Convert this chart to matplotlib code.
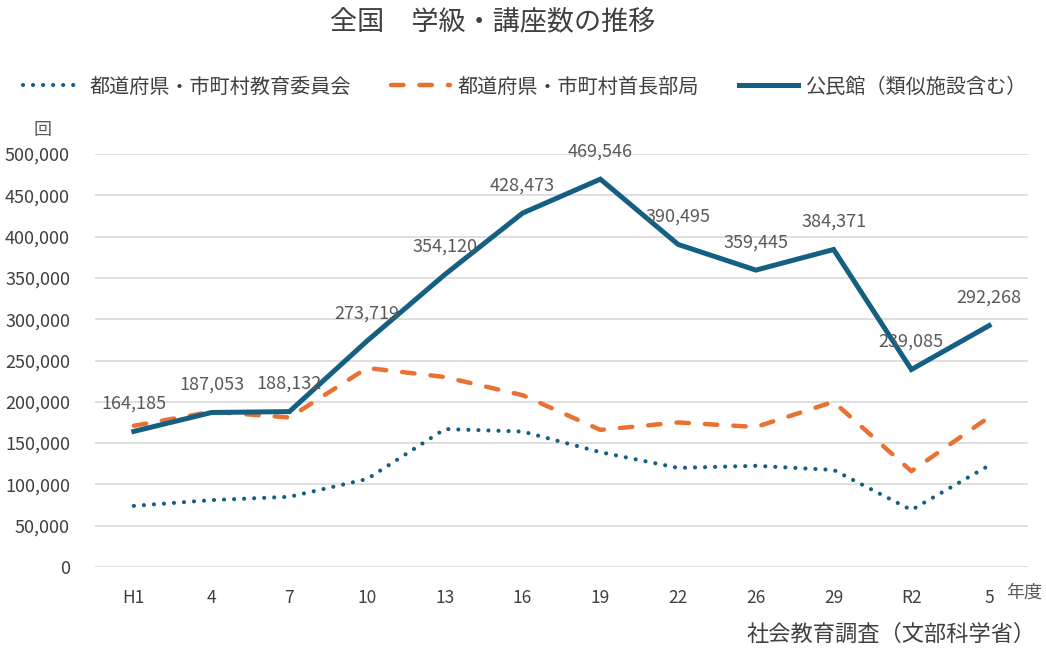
import matplotlib
matplotlib.use("Agg")
import matplotlib.pyplot as plt
from matplotlib.ticker import FuncFormatter

plt.rcParams['font.family'] = ['Noto Sans CJK JP', 'DejaVu Sans']

categories = ["H1", "4", "7", "10", "13", "16", "19", "22", "26", "29", "R2", "5"]
kyoiku_iinkai = [74000, 81000, 85000, 106500, 167000, 164000, 139000, 120000, 122500, 117500, 69000, 123000]
shucho_bukyoku = [171000, 188000, 181000, 241000, 230000, 208000, 166000, 175000, 169500, 200000, 116000, 181500]
kominkan = [164185, 187053, 188132, 273719, 354120, 428473, 469546, 390495, 359445, 384371, 239085, 292268]

series_names = ["都道府県・市町村教育委員会", "都道府県・市町村首長部局", "公民館（類似施設含む）"]
y_ticks = list(range(0, 500001, 50000))

BLUE = "#156082"
ORANGE = "#E97132"
TXT = "#404040"
LBL = "#595959"

W, H = 1046, 648
fig = plt.figure(figsize=(W / 100, H / 100), dpi=100)
ax = fig.add_axes([95 / W, 1 - 567 / H, (1028 - 95) / W, (567 - 154) / H])

x = list(range(len(categories)))
ax.plot(x, kyoiku_iinkai, color=BLUE, lw=3.0, linestyle=(0, (0.01, 2.4)),
        dash_capstyle='round', solid_capstyle='round', label=series_names[0], zorder=3)
ax.plot(x, shucho_bukyoku, color=ORANGE, lw=3.2, linestyle=(0, (2.8, 3.6)),
        dash_capstyle='round', label=series_names[1], zorder=3)
ax.plot(x, kominkan, color=BLUE, lw=3.6, solid_joinstyle='miter',
        label=series_names[2], zorder=4)

for xi, v in zip(x, kominkan):
    ax.annotate(f"{v:,}", (xi, v), xytext=(0, 20), textcoords='offset points',
                ha='center', va='center', fontsize=13, color=LBL, zorder=5)

ax.set_xlim(-0.5, len(categories) - 0.5)
ax.set_ylim(0, 500000)
ax.set_yticks(y_ticks)
ax.yaxis.set_major_formatter(FuncFormatter(lambda v, p: f"{int(v):,}"))
ax.set_xticks(x)
ax.set_xticklabels(categories)
ax.tick_params(axis='y', length=0, labelsize=13, labelcolor=TXT, pad=18)
ax.tick_params(axis='x', length=0, labelsize=12.5, labelcolor=TXT, pad=16)
ax.grid(axis='y', color='#D9D9D9', lw=1.2)
ax.set_axisbelow(True)
for s in ax.spines.values():
    s.set_visible(False)

fig.text(493 / W, 1 - 22 / H, "全国　学級・講座数の推移", ha='center', va='center',
         fontsize=19.5, color=TXT)
fig.text(43 / W, 1 - 130 / H, "回", ha='center', va='center', fontsize=13, color=LBL)
fig.text(1024 / W, 1 - 593 / H, "年度", ha='center', va='center', fontsize=13, color=LBL)
fig.text(1036 / W, 1 - 634 / H, "社会教育調査（文部科学省）", ha='right', va='center',
         fontsize=16, color=TXT)

leg = fig.legend(loc='center', bbox_to_anchor=(525 / W, 1 - 87 / H), ncol=3,
                 frameon=False, fontsize=14.5, handlelength=2.9, handletextpad=0.4,
                 columnspacing=2.0)
for t in leg.get_texts():
    t.set_color(TXT)

fig.savefig("out.png", dpi=100)
